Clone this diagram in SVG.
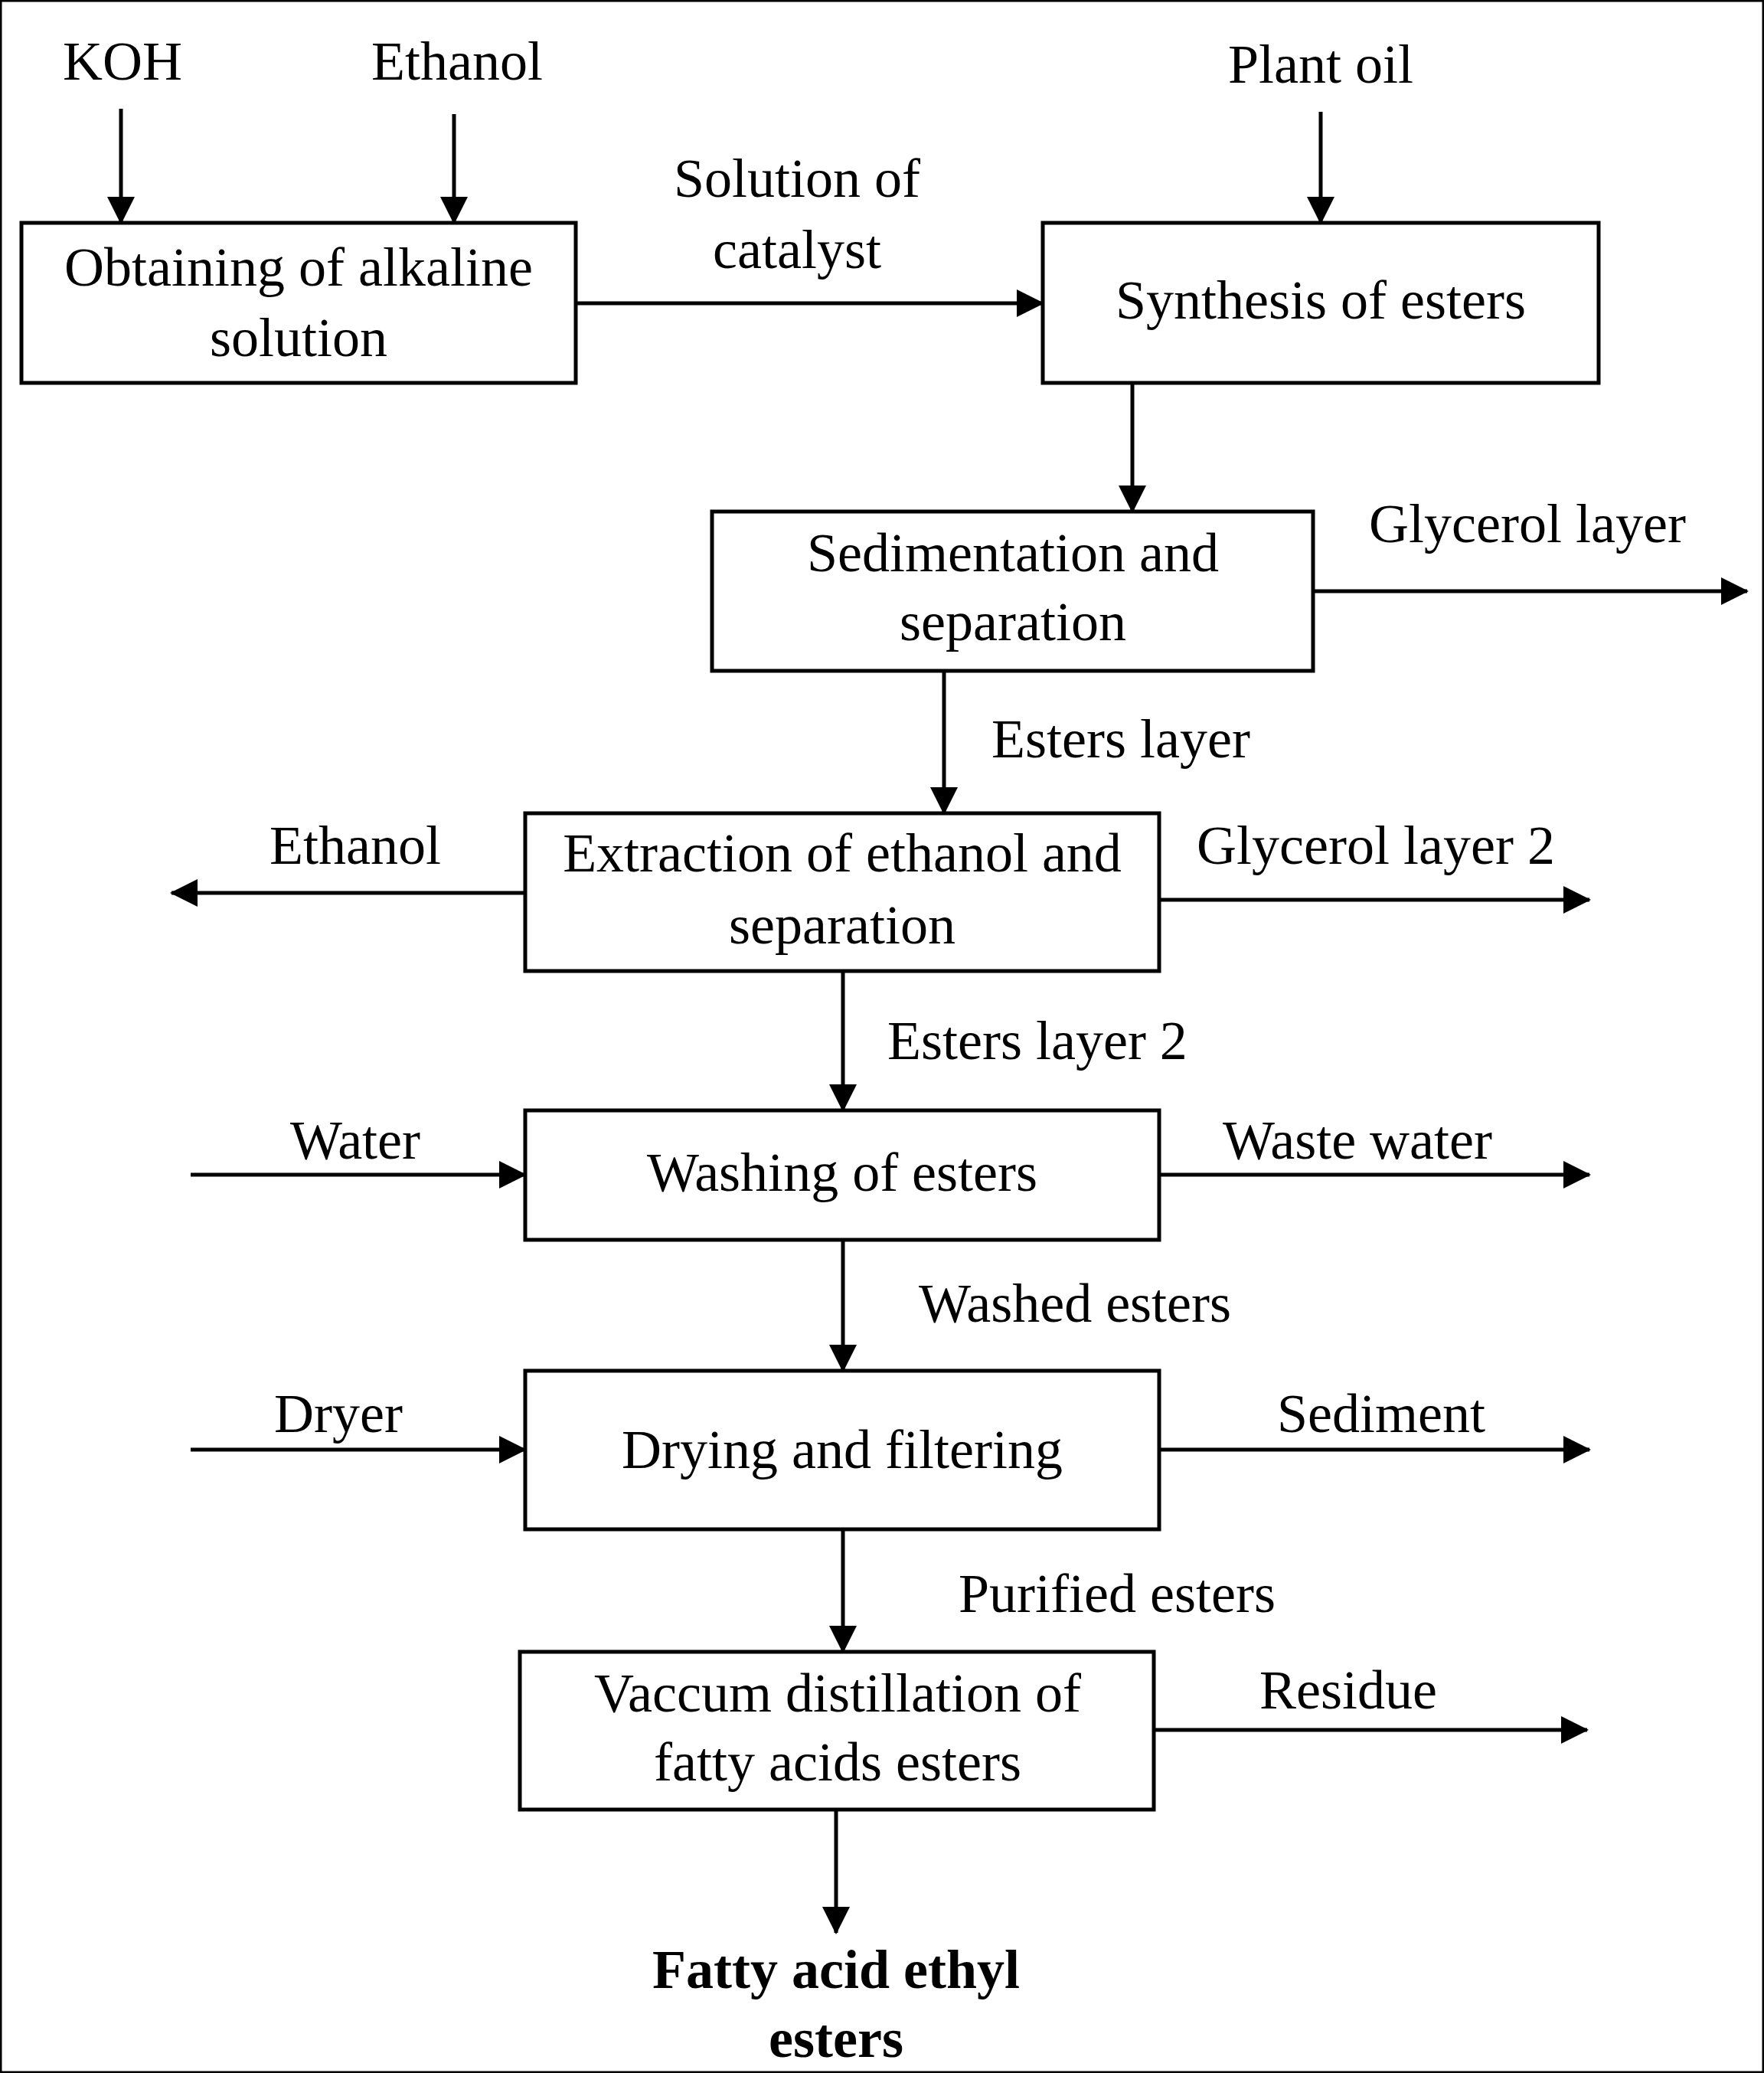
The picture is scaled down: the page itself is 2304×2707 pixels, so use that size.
<svg xmlns="http://www.w3.org/2000/svg" width="2304" height="2707" viewBox="0 0 2304 2707">
<style>
text{font-family:"Liberation Serif","Times New Roman",serif;font-size:72px;fill:#000}
.c{text-anchor:middle}
.b{font-weight:bold}
rect{fill:#fff;stroke:#000;stroke-width:5}
line{stroke:#000;stroke-width:5}
</style>
<defs>
<marker id="a" markerUnits="userSpaceOnUse" markerWidth="36" markerHeight="36" refX="34" refY="18" orient="auto">
<path d="M0,0 L36,18 L0,36 Z" fill="#000"/>
</marker>
</defs>
<rect width="2304" height="2707" fill="#fff" stroke="none"/>
<g id="connectors">
<line x1="158" y1="142" x2="158" y2="291" marker-end="url(#a)"/>
<line x1="593" y1="149" x2="593" y2="291" marker-end="url(#a)"/>
<line x1="1725" y1="146" x2="1725" y2="291" marker-end="url(#a)"/>
<line x1="752" y1="396" x2="1362" y2="396" marker-end="url(#a)"/>
<line x1="1479" y1="500" x2="1479" y2="668" marker-end="url(#a)"/>
<line x1="1715" y1="772" x2="2282" y2="772" marker-end="url(#a)"/>
<line x1="1233" y1="876" x2="1233" y2="1062" marker-end="url(#a)"/>
<line x1="686" y1="1166" x2="224" y2="1166" marker-end="url(#a)"/>
<line x1="1514" y1="1175" x2="2076" y2="1175" marker-end="url(#a)"/>
<line x1="1101" y1="1268" x2="1101" y2="1450" marker-end="url(#a)"/>
<line x1="249" y1="1534" x2="686" y2="1534" marker-end="url(#a)"/>
<line x1="1514" y1="1534" x2="2076" y2="1534" marker-end="url(#a)"/>
<line x1="1101" y1="1619" x2="1101" y2="1790" marker-end="url(#a)"/>
<line x1="249" y1="1893" x2="686" y2="1893" marker-end="url(#a)"/>
<line x1="1514" y1="1893" x2="2076" y2="1893" marker-end="url(#a)"/>
<line x1="1101" y1="1997" x2="1101" y2="2157" marker-end="url(#a)"/>
<line x1="1507" y1="2259" x2="2073" y2="2259" marker-end="url(#a)"/>
<line x1="1092" y1="2363" x2="1092" y2="2524" marker-end="url(#a)"/>
</g>
<g id="labels">
<text class="c" x="160" y="104">KOH</text>
<text class="c" x="597" y="104">Ethanol</text>
<text class="c" x="1725" y="108">Plant oil</text>
<text class="c" x="1041" y="257">Solution of</text>
<text class="c" x="1041" y="350">catalyst</text>
<text class="c" x="1995" y="708">Glycerol layer</text>
<text x="1295" y="989">Esters layer</text>
<text class="c" x="464" y="1128">Ethanol</text>
<text class="c" x="1797" y="1128">Glycerol layer 2</text>
<text x="1159" y="1383">Esters layer 2</text>
<text class="c" x="464" y="1513">Water</text>
<text class="c" x="1773" y="1513">Waste water</text>
<text x="1200" y="1726">Washed esters</text>
<text class="c" x="442" y="1870">Dryer</text>
<text class="c" x="1804" y="1870">Sediment</text>
<text x="1252" y="2105">Purified esters</text>
<text class="c" x="1761" y="2231">Residue</text>
<text class="c b" x="1092" y="2596">Fatty acid ethyl</text>
<text class="c b" x="1092" y="2686">esters</text>
</g>
<g id="n1"><rect x="28" y="291" width="724" height="209"/><text class="c" x="390" y="373">Obtaining of alkaline</text><text class="c" x="390" y="465">solution</text></g>
<g id="n2"><rect x="1362" y="291" width="726" height="209"/><text class="c" x="1725" y="416">Synthesis of esters</text></g>
<g id="n3"><rect x="930" y="668" width="785" height="208"/><text class="c" x="1323" y="746">Sedimentation and</text><text class="c" x="1323" y="836">separation</text></g>
<g id="n4"><rect x="686" y="1062" width="828" height="206"/><text class="c" x="1100" y="1138">Extraction of ethanol and</text><text class="c" x="1100" y="1232">separation</text></g>
<g id="n5"><rect x="686" y="1450" width="828" height="169"/><text class="c" x="1100" y="1555">Washing of esters</text></g>
<g id="n6"><rect x="686" y="1790" width="828" height="207"/><text class="c" x="1100" y="1917">Drying and filtering</text></g>
<g id="n7"><rect x="679" y="2157" width="828" height="206"/><text class="c" x="1094" y="2235">Vaccum distillation of</text><text class="c" x="1094" y="2325">fatty acids esters</text></g>
</svg>
